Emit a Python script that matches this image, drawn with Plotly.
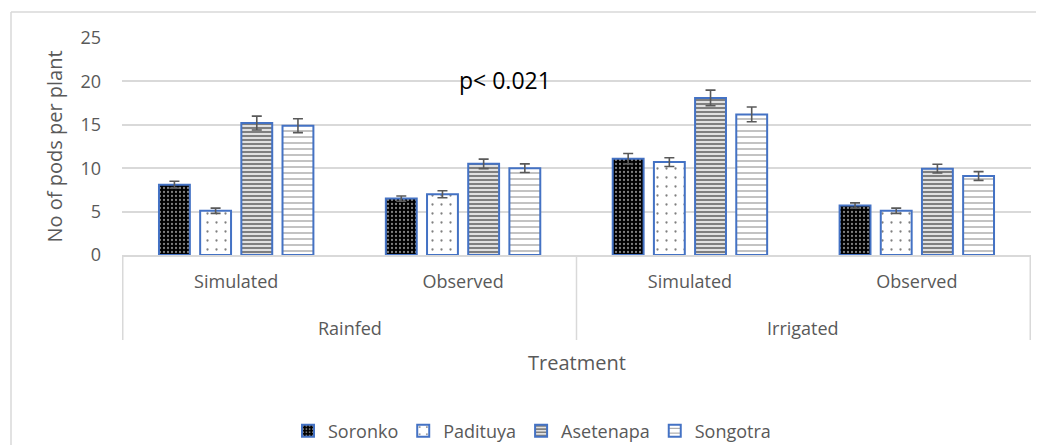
import plotly.graph_objects as go

# ---- data ----
groups = ["Rainfed", "Rainfed", "Irrigated", "Irrigated"]
subcats = ["Simulated", "Observed", "Simulated", "Observed"]
cat_keys = [f"{g} {s}" for g, s in zip(groups, subcats)]

soronko = [8.1, 6.5, 11.1, 5.7]
padituya = [5.1, 7.0, 10.7, 5.1]
asetenapa = [15.2, 10.5, 18.1, 9.95]
songotra = [14.9, 10.0, 16.2, 9.1]

soronko_err = [0.4, 0.3, 0.6, 0.3]
padituya_err = [0.3, 0.4, 0.5, 0.3]
asetenapa_err = [0.8, 0.55, 0.9, 0.5]
songotra_err = [0.8, 0.5, 0.85, 0.5]

outer_labels = ["Rainfed", "Irrigated"]
y_ticks = [0, 5, 10, 15, 20, 25]

FONT = "Open Sans"
GRAY = "#595959"
LIGHT = "#d9d9d9"
BLUE = "#4472C4"

series = [
    ("Soronko", soronko, soronko_err, dict(shape=".", bgcolor="black", fgcolor="white", size=4, solidity=0.25)),
    ("Padituya", padituya, padituya_err, dict(shape=".", bgcolor="white", fgcolor="black", size=9, solidity=0.05)),
    ("Asetenapa", asetenapa, asetenapa_err, dict(shape="-", bgcolor="white", fgcolor="black", size=4, solidity=0.62)),
    ("Songotra", songotra, songotra_err, dict(shape="-", bgcolor="white", fgcolor="#333333", size=6, solidity=0.2)),
]

fig = go.Figure()
for name, vals, errs, pat in series:
    fig.add_trace(go.Bar(
        name=name, x=cat_keys, y=vals,
        marker=dict(color="white", line=dict(color=BLUE, width=2), pattern=pat),
        error_y=dict(type="data", array=errs, visible=True, color=GRAY, thickness=1.6, width=5),
    ))

# page body has an 8px margin; work in reference-window pixels
OFF = 8
WIN_W, WIN_H = 1044, 445
W, H = WIN_W - OFF, WIN_H - OFF
# plot area in window pixels
PX0, PX1, PY0, PY1 = 122, 1031, 38, 255
L, R, T, B = PX0 - OFF, W - (PX1 - OFF), PY0 - OFF, H - (PY1 - OFF)
pw, ph = PX1 - PX0, PY1 - PY0

def py(p):
    return (PY1 - p) / ph

def px(p):
    return (p - PX0) / pw

shapes = []
n = len(cat_keys)
bounds = [-0.5]
for i in range(1, n):
    if groups[i] != groups[i - 1]:
        bounds.append(i - 0.5)
bounds.append(n - 0.5)
for b in bounds:
    shapes.append(dict(type="line", xref="x", yref="paper", x0=b, x1=b,
                       y0=0, y1=py(340), line=dict(color=LIGHT, width=1.5)))
# chart border (left and top)
shapes.append(dict(type="line", xref="paper", yref="paper",
                   x0=px(11), x1=px(11), y0=py(12), y1=py(470), line=dict(color=LIGHT, width=1.5)))
shapes.append(dict(type="line", xref="paper", yref="paper",
                   x0=px(11), x1=px(1070), y0=py(12), y1=py(12), line=dict(color=LIGHT, width=1.5)))

annotations = []
for lab in outer_labels:
    idx = [i for i, g in enumerate(groups) if g == lab]
    annotations.append(dict(text=lab, xref="x", yref="paper", x=sum(idx) / len(idx),
                            y=py(328), showarrow=False, yanchor="middle",
                            font=dict(family=FONT, size=18, color=GRAY)))
annotations.append(dict(text="Treatment", xref="paper", yref="paper", x=0.5,
                        y=py(362), showarrow=False, yanchor="middle",
                        font=dict(family=FONT, size=20, color=GRAY)))
annotations.append(dict(text="p< 0.021", xref="paper", yref="paper", x=px(505),
                        y=py(80), showarrow=False, yanchor="middle",
                        font=dict(family=FONT, size=23, color="black")))

fig.update_layout(
    width=W, height=H,
    margin=dict(l=L, r=R, t=T, b=B, autoexpand=False),
    paper_bgcolor="white", plot_bgcolor="white",
    barmode="group", bargap=0.274, bargroupgap=0.25,
    font=dict(family=FONT, color=GRAY),
    shapes=shapes, annotations=annotations,
    legend=dict(orientation="h", x=px(532), xanchor="center",
                y=py(431), yanchor="middle",
                font=dict(family=FONT, size=18, color=GRAY), traceorder="normal"),
    xaxis=dict(type="category", tickvals=cat_keys, ticktext=subcats,
               showline=True, linecolor=LIGHT, linewidth=1.5, ticks="",
               ticklabelstandoff=10, tickfont=dict(family=FONT, size=18, color=GRAY),
               showgrid=False),
    yaxis=dict(range=[0, 25], tickvals=y_ticks, showgrid=True, gridcolor=LIGHT, gridwidth=1.5,
               zeroline=False, ticks="", ticklabelstandoff=20,
               tickfont=dict(family=FONT, size=18, color=GRAY),
               title=dict(text="No of pods per plant", standoff=12,
                          font=dict(family=FONT, size=20, color=GRAY))),
)

fig.write_html("out.html")
